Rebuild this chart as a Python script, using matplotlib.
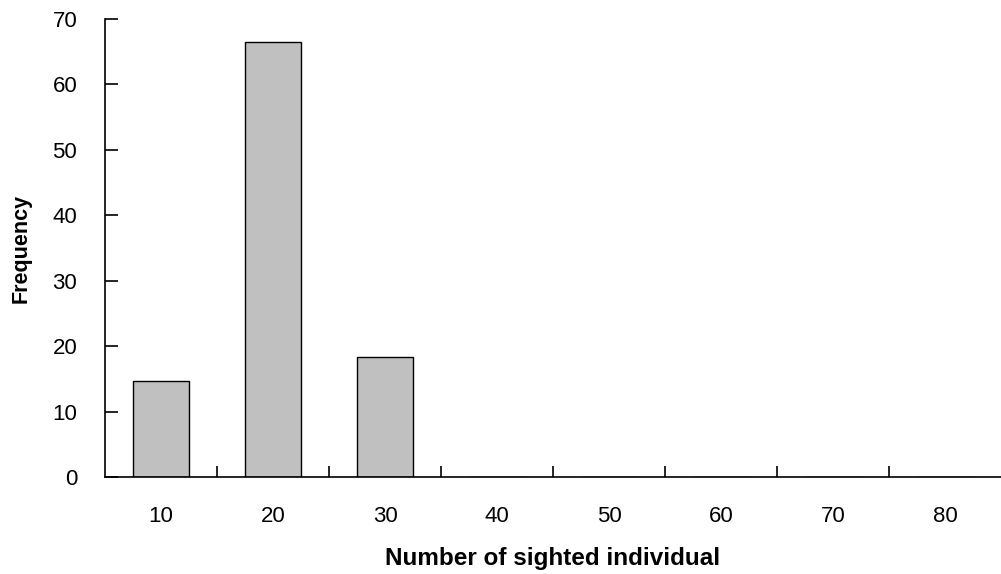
import matplotlib
matplotlib.use('Agg')
import matplotlib.pyplot as plt
import numpy as np

# sighting frequency histogram
categories = ['10', '20', '30', '40', '50', '60', '70', '80']
frequency = [14.7, 66.5, 18.3, 0, 0, 0, 0, 0]
y_ticks = [0, 10, 20, 30, 40, 50, 60, 70]

plt.rcParams['font.family'] = ['Liberation Sans', 'DejaVu Sans']

fig = plt.figure(figsize=(10.01, 5.74), dpi=100)
ax = fig.add_axes([105 / 1001, 1 - 477 / 574, 896 / 1001, (477 - 19) / 574])

x = np.arange(len(categories))
ax.bar(x, frequency, width=0.5, color='#C0C0C0', edgecolor='black', linewidth=1)

ax.set_xlim(-0.5, len(categories) - 0.5)
ax.set_ylim(0, 70)

ax.set_xticks(x)
ax.set_xticklabels(categories, fontsize=16)
ax.set_xticks(x[:-1] + 0.5, minor=True)
ax.tick_params(axis='x', which='major', length=0, pad=21)
ax.tick_params(axis='x', which='minor', direction='in', length=8, width=1.2)

ax.set_yticks(y_ticks)
ax.set_yticklabels([str(v) for v in y_ticks], fontsize=16)
ax.tick_params(axis='y', direction='in', length=9, width=1.2, pad=20)

for side in ['top', 'right']:
    ax.spines[side].set_visible(False)
ax.spines['left'].set_linewidth(1.2)
ax.spines['bottom'].set_linewidth(1.2)

ax.set_xlabel('Number of sighted individual', fontsize=17.5, fontweight='bold', labelpad=14)
ax.set_ylabel('Frequency', fontsize=15.5, fontweight='bold', labelpad=15)

fig.savefig('out.png', dpi=100)
